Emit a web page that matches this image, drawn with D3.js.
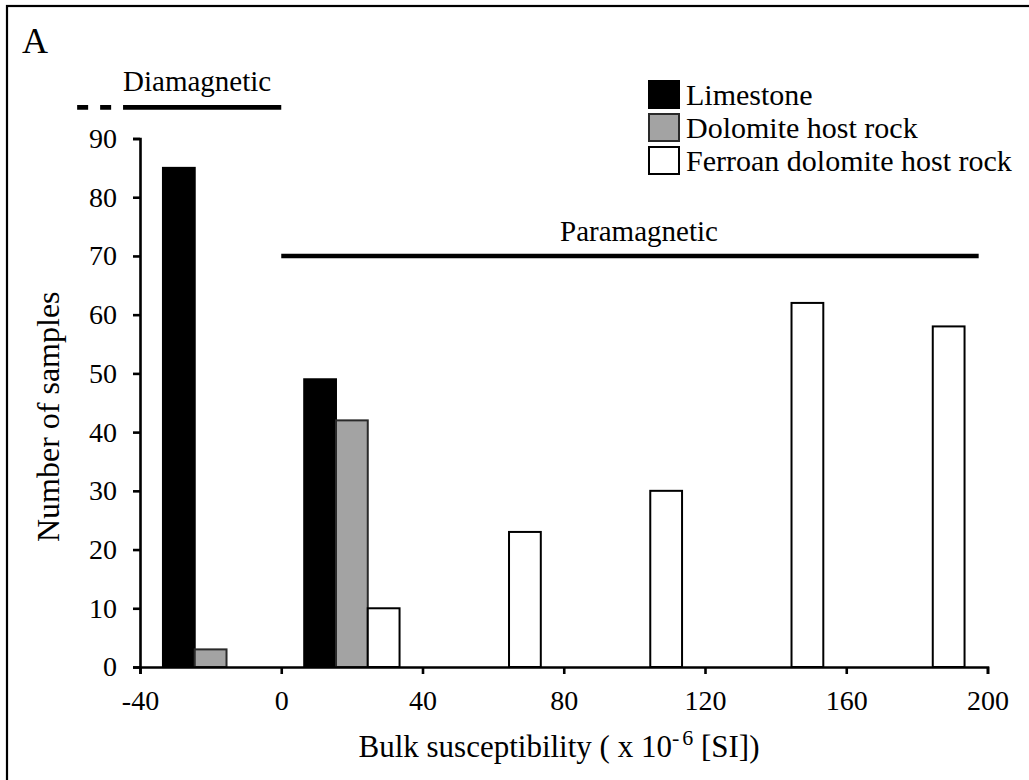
<!DOCTYPE html>
<html>
<head>
<meta charset="utf-8">
<script src="https://cdn.jsdelivr.net/npm/d3@7"></script>
<style>
  html, body { margin: 0; padding: 0; background: #fff; }
  svg { display: block; font-family: "Liberation Serif", "Times New Roman", serif; }
</style>
</head>
<body>
<svg id="chart" width="1029" height="780"></svg>
<script>
// ---- data ----
const binCenters = [-20, 20, 60, 100, 140, 180];
const seriesNames = ["Limestone", "Dolomite host rock", "Ferroan dolomite host rock"];
const limestone = [85, 49, 0, 0, 0, 0];
const dolomite = [3, 42, 0, 0, 0, 0];
const ferroan = [0, 10, 23, 30, 62, 58];
const xTicks = [-40, 0, 40, 80, 120, 160, 200];
const yTicks = [0, 10, 20, 30, 40, 50, 60, 70, 80, 90];
const xDomain = [-40, 200];
const yDomain = [0, 90];
const diamagDash = [-57.8, -44.8];   // dashed part of the diamagnetic range line
const diamagSolid = [-44.8, 0];
const diamagLevel = [95.3];
const paramagRange = [0, 197.5];
const paramagLevel = [70];

// ---- styles / layout ----
const fills = ["#000000", "#a3a3a3", "#ffffff"];
const strokes = ["#000000", "#2a2a2a", "#000000"];
const svg = d3.select("#chart");
const margin = { left: 140, right: 1029 - 987.5, top: 138.5, bottom: 780 - 667 };
const W = 1029, H = 780;

const x = d3.scaleLinear().domain(xDomain).range([margin.left, W - margin.right]);
const y = d3.scaleLinear().domain(yDomain).range([H - margin.bottom, margin.top]);

// frame (top & left visible)
svg.append("rect").attr("x", 7).attr("y", 6).attr("width", 1040).attr("height", 800)
  .attr("fill", "none").attr("stroke", "#000").attr("stroke-width", 2.2);

// panel letter
svg.append("text").attr("x", 22).attr("y", 53).attr("font-size", 36).text("A");

// bars
const groupW = (x(40) - x(0)) * 0.675;
const sub = d3.scaleBand().domain(d3.range(3)).range([-groupW / 2, groupW / 2]).padding(0);
const seriesVals = [limestone, dolomite, ferroan];
const barData = [];
seriesVals.forEach((vals, s) => vals.forEach((v, i) => { if (v > 0) barData.push({ s, c: binCenters[i], v }); }));
svg.append("g").selectAll("rect").data(barData).join("rect")
  .attr("x", d => x(d.c) + sub(d.s))
  .attr("width", sub.bandwidth())
  .attr("y", d => y(d.v))
  .attr("height", d => y(0) - y(d.v))
  .attr("fill", d => fills[d.s])
  .attr("stroke", d => strokes[d.s])
  .attr("stroke-width", 2);

// axes
const xAxis = svg.append("g").attr("transform", `translate(0,${y(0)})`)
  .call(d3.axisBottom(x).tickValues(xTicks).tickSize(7).tickPadding(16).tickSizeOuter(7).tickFormat(d3.format("d")));
const yAxis = svg.append("g").attr("transform", `translate(${x(xDomain[0])},0)`)
  .call(d3.axisLeft(y).tickValues(yTicks).tickSize(7).tickPadding(16).tickSizeOuter(7));
[xAxis, yAxis].forEach(a => {
  a.selectAll("path, line").attr("stroke", "#000").attr("stroke-width", 2.6);
  a.selectAll("text").attr("font-size", 28).attr("font-family", "Liberation Serif, Times New Roman, serif").attr("fill", "#000");
});
xAxis.selectAll("text").text(d => d < 0 ? "-" + Math.abs(d) : d);

// axis titles
svg.append("text").attr("transform", `translate(59,${(y(0) + y(90)) / 2 + 14}) rotate(-90)`)
  .attr("text-anchor", "middle").attr("font-size", 32).text("Number of samples");
const xt = svg.append("text").attr("x", 559).attr("y", 757).attr("text-anchor", "middle").attr("font-size", 31);
xt.append("tspan").text("Bulk susceptibility ( x 10");
xt.append("tspan").attr("font-size", 22).attr("dy", -12).text("-");
xt.append("tspan").attr("font-size", 22).attr("dx", 3).text("6");
xt.append("tspan").attr("dy", 12).text(" [SI])");

// range annotations
svg.append("line").attr("x1", x(diamagDash[0])).attr("x2", x(diamagDash[1]))
  .attr("y1", y(diamagLevel[0])).attr("y2", y(diamagLevel[0]))
  .attr("stroke", "#000").attr("stroke-width", 4.6).attr("stroke-dasharray", "11,12");
svg.append("line").attr("x1", x(diamagSolid[0])).attr("x2", x(diamagSolid[1]))
  .attr("y1", y(diamagLevel[0])).attr("y2", y(diamagLevel[0]))
  .attr("stroke", "#000").attr("stroke-width", 4.6);
svg.append("text").attr("x", x(diamagSolid[0])).attr("y", y(diamagLevel[0]) - 16)
  .attr("font-size", 29).text("Diamagnetic");

svg.append("line").attr("x1", x(paramagRange[0])).attr("x2", x(paramagRange[1]))
  .attr("y1", y(paramagLevel[0])).attr("y2", y(paramagLevel[0]))
  .attr("stroke", "#000").attr("stroke-width", 4.4);
svg.append("text").attr("x", (x(paramagRange[0]) + x(paramagRange[1])) / 2 + 9).attr("y", y(paramagLevel[0]) - 15)
  .attr("text-anchor", "middle").attr("font-size", 29).text("Paramagnetic");

// legend
const lg = svg.append("g").attr("transform", "translate(648,80)");
const li = lg.selectAll("g").data(seriesNames).join("g").attr("transform", (d, i) => `translate(0,${i * 33})`);
li.append("rect").attr("x", 1).attr("y", 1).attr("width", 30).attr("height", 27)
  .attr("fill", (d, i) => fills[i]).attr("stroke", (d, i) => strokes[i]).attr("stroke-width", 2);
li.append("text").attr("x", 38).attr("y", 25).attr("font-size", 30).text(d => d);
</script>
</body>
</html>
